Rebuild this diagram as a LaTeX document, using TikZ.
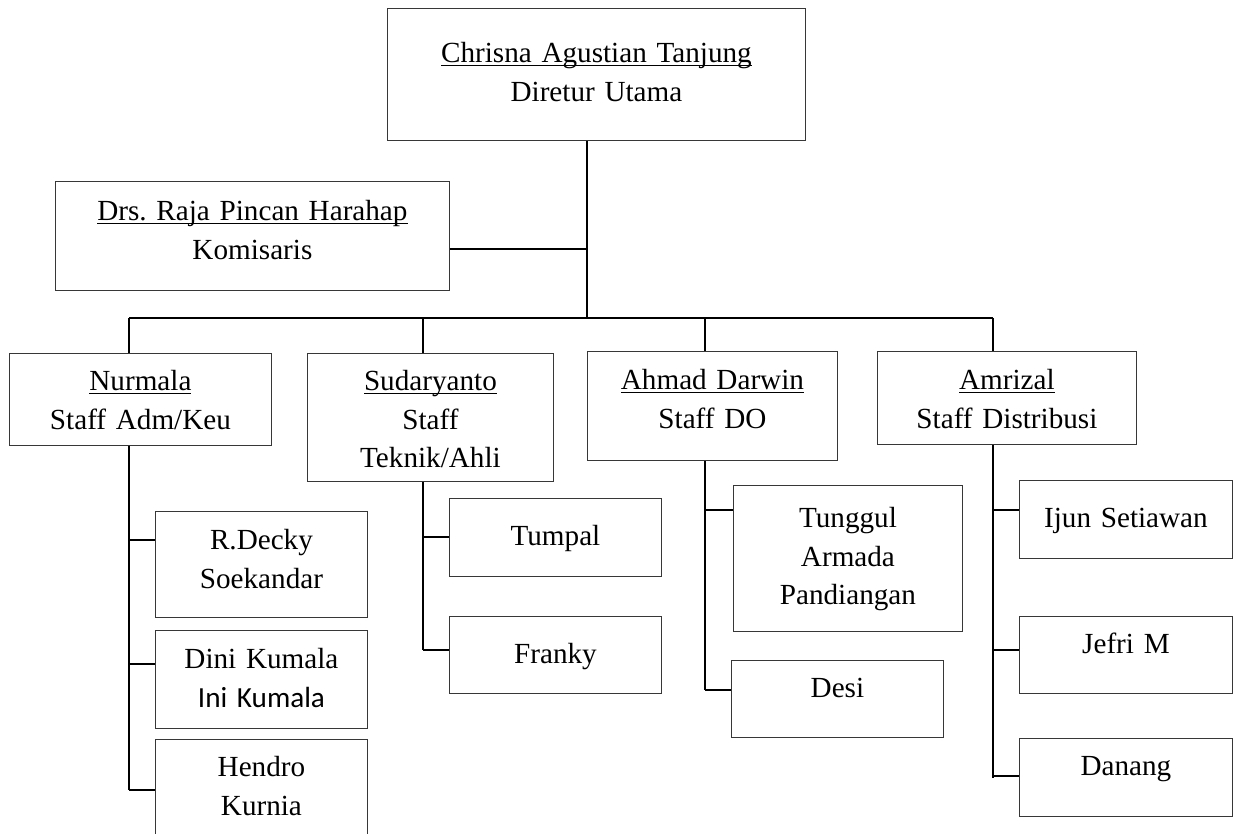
\documentclass[tikz,border=0pt]{standalone}
\usepackage{fontspec}
\setmainfont{Liberation Serif}
\newfontfamily\calibfont{Carlito}
\usepackage{tikz}
\definecolor{boxline}{RGB}{55,55,55}
\frenchspacing
\newsavebox{\ulbox}
\newcommand{\ulname}[1]{\sbox\ulbox{#1}\rlap{\rule[-2.3pt]{\wd\ulbox}{0.8pt}}\usebox\ulbox}
% box: name, left, top, right, bottom, first baseline, text
\newcommand{\orgbox}[7]{%
  \pgfmathsetmacro{\bW}{(#4-#2)*0.02}%
  \pgfmathsetmacro{\bH}{#6*0.02}%
  \pgfmathsetmacro{\bD}{(#5-#3-#6)*0.02}%
  \node[staffbox,text width=\bW cm,text height=\bH cm,text depth=\bD cm,anchor=north west] (#1) at (#2,#3) {#7};%
}

\begin{document}
\begin{tikzpicture}[x=0.02cm,y=-0.02cm,
  staffbox/.style={draw=boxline,line width=0.5pt,inner sep=0pt,align=center,
    font=\fontsize{16.6}{22}\selectfont},
  link/.style={draw=black,line width=1.1pt}]
  \path[use as bounding box] (0,0) rectangle (1238,834);
  \clip (0,0) rectangle (1238,834);
  \fill[white] (0,0) rectangle (1238,834);
  % top
  \orgbox{dir}{387}{8}{805}{140}{54}{\ulname{Chrisna Agustian Tanjung}\\Diretur Utama}
  \orgbox{kom}{55}{181}{449}{290}{39}{\ulname{Drs. Raja Pincan Harahap}\\Komisaris}
  % staff
  \orgbox{nurm}{9}{353}{271}{445}{37}{\ulname{Nurmala}\\Staff Adm/Keu}
  \orgbox{sudar}{307}{353}{553}{481}{37}{\ulname{Sudaryanto}\\Staff\\Teknik/Ahli}
  \orgbox{ahmad}{587}{351}{837}{460}{38}{\ulname{Ahmad Darwin}\\Staff DO}
  \orgbox{amriz}{877}{351}{1136}{444}{38}{\ulname{Amrizal}\\Staff Distribusi}
  % members
  \orgbox{rdecky}{155}{511}{367}{617}{38}{R.Decky\\Soekandar}
  \orgbox{dini}{155}{630}{367}{728}{38}{Dini Kumala\\{\calibfont Ini Kumala}}
  \orgbox{hendro}{155}{739}{367}{850}{37}{Hendro\\Kurnia}
  \orgbox{tumpal}{449}{498}{661}{576}{47}{Tumpal}
  \orgbox{franky}{449}{616}{661}{693}{47}{Franky}
  \orgbox{tunggul}{733}{485}{962}{631}{42}{Tunggul\\Armada\\Pandiangan}
  \orgbox{desi}{731}{660}{943}{737}{37}{Desi}
  \orgbox{ijun}{1019}{480}{1232}{558}{47}{Ijun Setiawan}
  \orgbox{jefri}{1019}{616}{1232}{693}{37}{Jefri M}
  \orgbox{danang}{1019}{738}{1232}{816}{37}{Danang}
  % lines
  \coordinate (hub) at (587,249);
  \coordinate (bus) at (587,318);
  \coordinate (jNurm) at (129,318);
  \coordinate (jSudar) at (423,318);
  \coordinate (jAhmad) at (705,318);
  \coordinate (jAmriz) at (993,318);
  \draw[link] (dir.south -| bus) -- (bus);
  \draw[link] (kom.east |- hub) -- (hub);
  \draw[link] (jNurm) -- (jAmriz);
  \foreach \j/\b in {jNurm/nurm,jSudar/sudar,jAhmad/ahmad,jAmriz/amriz}
    \draw[link] (\j) -- (\j |- \b.north);
  \foreach \j/\b/\y in {jNurm/nurm/790,jSudar/sudar/650,jAhmad/ahmad/690,jAmriz/amriz/778}
    \draw[link] (\j |- \b.south) -- (\j |- 0,\y);
  \foreach \j/\b/\y in {jNurm/rdecky/540,jNurm/dini/664,jNurm/hendro/790,
      jSudar/tumpal/537,jSudar/franky/650,jAhmad/tunggul/510,jAhmad/desi/690,
      jAmriz/ijun/510,jAmriz/jefri/650,jAmriz/danang/776}
    \draw[link] (\j |- 0,\y) -- (\b.west |- 0,\y);
\end{tikzpicture}
\end{document}
